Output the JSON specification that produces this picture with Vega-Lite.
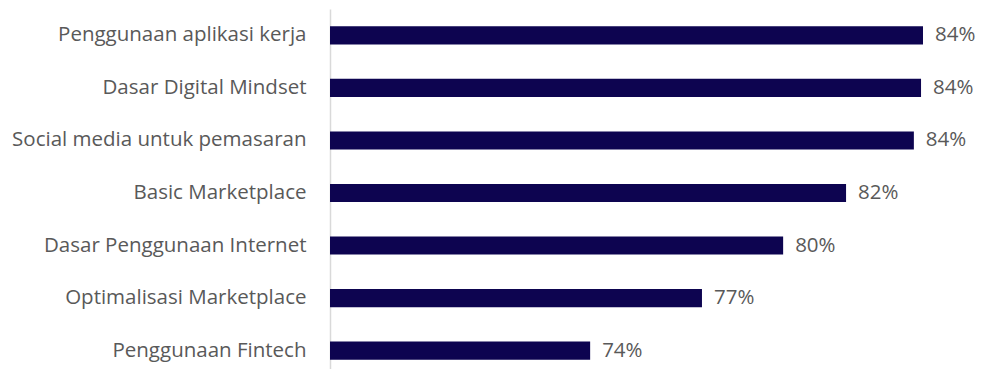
{
  "$schema": "https://vega.github.io/schema/vega-lite/v6.json",
  "autosize": "none",
  "width": 652,
  "height": 368,
  "padding": {"left": 330, "top": 9, "right": 0, "bottom": 0},
  "background": "white",
  "config": {"view": {"stroke": null}, "font": "Open Sans"},
  "data": {
    "values": [
      {"skill": "Penggunaan aplikasi kerja", "value": 0.8419},
      {"skill": "Dasar Digital Mindset", "value": 0.8413},
      {"skill": "Social media untuk pemasaran", "value": 0.8391},
      {"skill": "Basic Marketplace", "value": 0.8183},
      {"skill": "Dasar Penggunaan Internet", "value": 0.7990},
      {"skill": "Optimalisasi Marketplace", "value": 0.7741},
      {"skill": "Penggunaan Fintech", "value": 0.7398}
    ]
  },
  "encoding": {
    "y": {
      "field": "skill", "type": "nominal", "sort": null,
      "scale": {"paddingInner": 0.655, "paddingOuter": 0.33},
      "axis": {"title": null, "ticks": false, "domainColor": "#D9D9D9", "domainWidth": 1.5, "labelFontSize": 20.5, "labelColor": "#595959", "labelPadding": 24, "labelFont": "Open Sans", "labelLimit": 400}
    },
    "x": {
      "field": "value", "type": "quantitative",
      "scale": {"domain": [0.66, 0.86], "zero": false, "nice": false},
      "axis": null
    }
  },
  "layer": [
    {"mark": {"type": "bar", "color": "#0D0450"},
     "encoding": {"x2": {"datum": 0.66}}},
    {"mark": {"type": "text", "align": "left", "dx": 12, "fontSize": 20.5, "color": "#595959", "font": "Open Sans"},
     "encoding": {"text": {"field": "value", "type": "quantitative", "format": ".0%"}}}
  ]
}
